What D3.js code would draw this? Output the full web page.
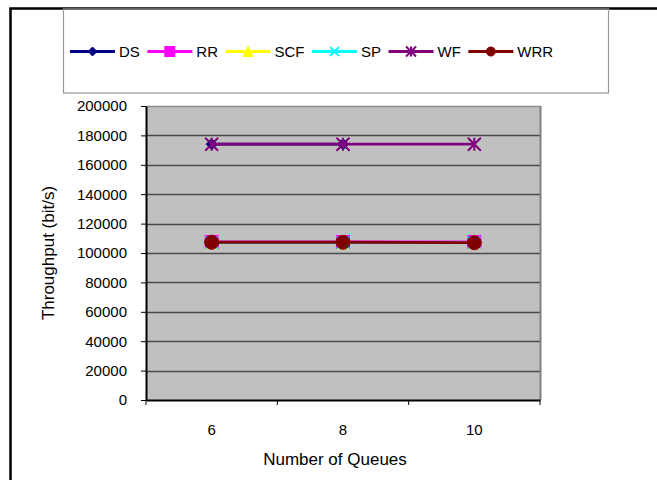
<!DOCTYPE html>
<html>
<head>
<meta charset="utf-8">
<script src="https://cdn.jsdelivr.net/npm/d3@7"></script>
<style>
  html, body { margin: 0; padding: 0; background: #fff; }
  svg { display: block; font-family: "Liberation Sans", Arial, sans-serif; }
</style>
</head>
<body>
<svg id="chart" width="657" height="480"></svg>
<script>
// ---- data ----
const categories = ["6", "8", "10"];
const seriesNames = ["DS", "RR", "SCF", "SP", "WF", "WRR"];
const dsValues  = [174000, 174000, null];
const rrValues  = [107500, 107500, 107500];
const scfValues = [107000, 107000, 107000];
const spValues  = [107000, 107000, 107000];
const wfValues  = [174000, 174000, 174000];
const wrrValues = [107300, 107300, 107000];
const yTicks = [0, 20000, 40000, 60000, 80000, 100000, 120000, 140000, 160000, 180000, 200000];
const xTitle = "Number of Queues";
const yTitle = "Throughput (bit/s)";

const seriesValues = [dsValues, rrValues, scfValues, spValues, wfValues, wrrValues];
const colors = ["#000080", "#FF00FF", "#FFFF00", "#00FFFF", "#800080", "#800000"];
const markerTypes = ["diamond", "square", "triangle", "cross", "asterisk", "circle"];

const svg = d3.select("#chart");

// outer border
svg.append("rect").attr("x", 10.5).attr("y", 8.5).attr("width", 700).attr("height", 500)
  .attr("fill", "#fff").attr("stroke", "#000").attr("stroke-width", 2.5);

// plot geometry
const L = 146, R = 540, T = 106, B = 400;
const x = d3.scaleBand().domain(categories).range([L, R]).padding(0);
const y = d3.scaleLinear().domain([0, 200000]).range([B, T]);

// plot background
svg.append("rect").attr("x", L).attr("y", T).attr("width", R - L).attr("height", B - T)
  .attr("fill", "#C0C0C0");

// gridlines
svg.append("g").selectAll("line").data(yTicks.filter(d => d > 0)).join("line")
  .attr("x1", L).attr("x2", R)
  .attr("y1", d => Math.round(y(d)) + 0.5).attr("y2", d => Math.round(y(d)) + 0.5)
  .attr("stroke", d => d === 200000 ? "#8a8a8a" : "#4a4a4a").attr("stroke-width", 1.3);

// right border of plot
svg.append("line").attr("x1", R + 0.5).attr("x2", R + 0.5).attr("y1", T).attr("y2", B)
  .attr("stroke", "#808080").attr("stroke-width", 2);

// y axis
const yAxis = svg.append("g").attr("transform", `translate(${L},0)`)
  .call(d3.axisLeft(y).tickValues(yTicks).tickFormat(d3.format("d")).tickSize(5).tickPadding(14).tickSizeOuter(0));
yAxis.select(".domain").attr("stroke", "#000").attr("stroke-width", 2);
yAxis.selectAll(".tick line").attr("stroke", "#000").attr("stroke-width", 1);
yAxis.selectAll("text").attr("font-size", 15).attr("fill", "#000")
  .attr("font-family", "Liberation Sans, Arial, sans-serif");

// x axis
const xAxis = svg.append("g").attr("transform", `translate(0,${B})`)
  .call(d3.axisBottom(x).tickSize(0).tickPadding(24).tickSizeOuter(0));
xAxis.select(".domain").attr("stroke", "#000").attr("stroke-width", 2);
xAxis.selectAll("text").attr("font-size", 15).attr("fill", "#000")
  .attr("font-family", "Liberation Sans, Arial, sans-serif");
// category boundary ticks
const edges = categories.map(c => x(c)).concat([x.range()[1]]);
svg.append("g").selectAll("line").data(edges).join("line")
  .attr("x1", d => d).attr("x2", d => d).attr("y1", B).attr("y2", B + 5)
  .attr("stroke", "#000").attr("stroke-width", 1);

// titles
svg.append("text").attr("x", (L + R) / 2 - 8).attr("y", 465).attr("text-anchor", "middle")
  .attr("font-size", 17).attr("fill", "#000").text(xTitle);
svg.append("text").attr("transform", "translate(54,253) rotate(-90)").attr("text-anchor", "middle")
  .attr("font-size", 17).attr("fill", "#000").text(yTitle);

// marker drawer
function drawMarker(g, type, color, size) {
  const h = size / 2;
  if (type === "diamond") {
    g.append("path").attr("d", `M0,${-h}L${h},0L0,${h}L${-h},0Z`).attr("fill", color).attr("stroke", color);
  } else if (type === "square") {
    g.append("rect").attr("x", -h).attr("y", -h).attr("width", size).attr("height", size)
      .attr("fill", color).attr("stroke", color);
  } else if (type === "triangle") {
    g.append("path").attr("d", `M0,${-h}L${h},${h}L${-h},${h}Z`).attr("fill", color).attr("stroke", color);
  } else if (type === "cross") {
    g.append("path").attr("d", `M${-h},${-h}L${h},${h}M${-h},${h}L${h},${-h}`)
      .attr("stroke", color).attr("stroke-width", 1.8).attr("fill", "none");
  } else if (type === "asterisk") {
    g.append("path").attr("d", `M${-h},${-h}L${h},${h}M${-h},${h}L${h},${-h}M0,${-h}L0,${h}`)
      .attr("stroke", color).attr("stroke-width", 2).attr("fill", "none");
  } else if (type === "circle") {
    g.append("circle").attr("r", h).attr("fill", color).attr("stroke", color);
  }
}

const cx = c => x(c) + x.bandwidth() / 2;
const plotSizes = [11, 13, 12, 12, 13, 14];

// series
seriesNames.forEach((name, i) => {
  const pts = categories.map((c, j) => ({ c, v: seriesValues[i][j] }));
  const line = d3.line().defined(d => d.v != null).x(d => cx(d.c)).y(d => y(d.v));
  svg.append("path").datum(pts).attr("d", line).attr("fill", "none")
    .attr("stroke", colors[i]).attr("stroke-width", 2.8);
  pts.filter(d => d.v != null).forEach(d => {
    const g = svg.append("g").attr("transform", `translate(${cx(d.c)},${y(d.v)})`);
    drawMarker(g, markerTypes[i], colors[i], plotSizes[i]);
  });
});

// legend box
svg.append("rect").attr("x", 63.5).attr("y", 9).attr("width", 545).attr("height", 84)
  .attr("fill", "none").attr("stroke", "#9a9a9a").attr("stroke-width", 1.2);

const legendSizes = [9, 10, 10, 9, 10, 9];
let lx = 70;
const ly = 51.5;
seriesNames.forEach((name, i) => {
  const g = svg.append("g");
  g.append("line").attr("x1", lx).attr("x2", lx + 45).attr("y1", ly).attr("y2", ly)
    .attr("stroke", colors[i]).attr("stroke-width", 2.8);
  const m = g.append("g").attr("transform", `translate(${lx + 22.5},${ly})`);
  drawMarker(m, markerTypes[i], colors[i], legendSizes[i]);
  const t = g.append("text").attr("x", lx + 49).attr("y", ly + 5.5).attr("font-size", 15)
    .attr("fill", "#000").text(name);
  lx = lx + 49 + t.node().getComputedTextLength() + 7.5;
});
</script>
</body>
</html>
